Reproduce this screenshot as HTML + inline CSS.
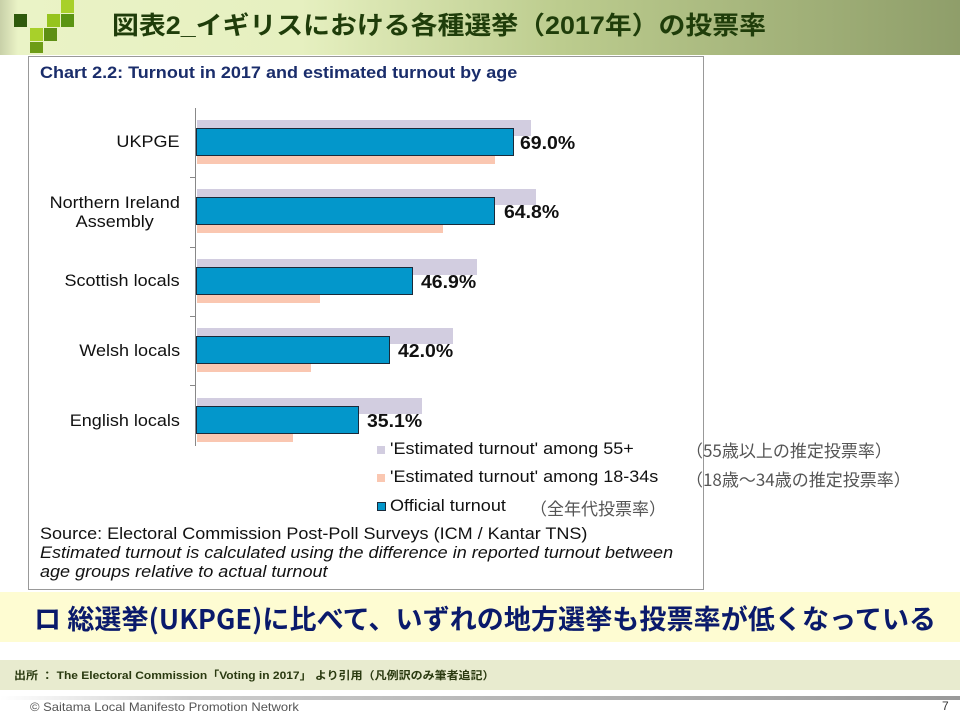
<!DOCTYPE html>
<html><head><meta charset="utf-8"><style>
*{margin:0;padding:0;box-sizing:border-box}
body{width:960px;height:720px;position:relative;background:#fff;overflow:hidden;font-family:"Liberation Sans","Noto Sans CJK JP",sans-serif}
.a{position:absolute}
.s{transform:scaleX(1.06);transform-origin:0 0;white-space:nowrap}
.sq{position:absolute;width:13px;height:13px}
.lbl{position:absolute;right:780px;font-size:17px;color:#111;text-align:center;line-height:19px;transform:scaleX(1.06);transform-origin:100% 0;white-space:nowrap}
.g{position:absolute;left:197px;height:16px;background:#d2cde0}
.b{position:absolute;left:196px;height:28px;background:#0397cb;border:1.5px solid #1a2a3a}
.p{position:absolute;left:197px;height:8px;background:#fac7b1}
.v{position:absolute;font-size:18px;font-weight:bold;color:#111;transform:scaleX(1.08);transform-origin:0 0}
.jp{font-family:"Noto Sans CJK JP",sans-serif;color:#555;font-size:17px;white-space:nowrap}
</style></head><body>
<div class="a" style="left:0;top:0;width:960px;height:55px;background:linear-gradient(90deg,#c8d0a8 0,#eaf3c6 18px,#e6f0c0 300px,#bccc8e 560px,#8f9e6a 960px)"></div>
<div class="sq" style="left:61px;top:0;background:#a8d02a"></div>
<div class="sq" style="left:14px;top:14px;background:#2f5a0c"></div>
<div class="sq" style="left:47px;top:14px;background:#96c41e"></div>
<div class="sq" style="left:61px;top:14px;background:#5a9412"></div>
<div class="sq" style="left:30px;top:28px;background:#a8d02a"></div>
<div class="sq" style="left:44px;top:28px;background:#5e8f14"></div>
<div class="sq" style="left:30px;top:42px;background:#6d9c16;height:11px"></div>
<div class="a" style="left:112px;top:6px;font-size:25px;font-weight:bold;color:#1f3d0a;white-space:nowrap;transform:scaleX(1.075);transform-origin:0 0">図表2_イギリスにおける各種選挙（2017年）の投票率</div>

<div class="a" style="left:28px;top:56px;width:676px;height:534px;border:1.5px solid #999;background:#fff"></div>
<div class="a s" style="left:40px;top:63px;font-size:17px;font-weight:bold;color:#1a2d6b">Chart 2.2: Turnout in 2017 and estimated turnout by age</div>

<div class="a" style="left:195px;top:108px;width:1px;height:338px;background:#888"></div>
<div class="a" style="left:190px;top:177px;width:6px;height:1px;background:#888"></div>
<div class="a" style="left:190px;top:247px;width:6px;height:1px;background:#888"></div>
<div class="a" style="left:190px;top:316px;width:6px;height:1px;background:#888"></div>
<div class="a" style="left:190px;top:385px;width:6px;height:1px;background:#888"></div>

<div class="lbl" style="top:132px">UKPGE</div>
<div class="lbl" style="top:193px">Northern Ireland<br>Assembly</div>
<div class="lbl" style="top:271px">Scottish locals</div>
<div class="lbl" style="top:341px">Welsh locals</div>
<div class="lbl" style="top:411px">English locals</div>

<div class="g" style="top:120px;width:334px"></div><div class="b" style="top:128px;width:318px"></div><div class="p" style="top:156px;width:298px"></div><div class="v" style="left:520px;top:133px">69.0%</div>
<div class="g" style="top:189px;width:339px"></div><div class="b" style="top:197px;width:299px"></div><div class="p" style="top:225px;width:246px"></div><div class="v" style="left:504px;top:202px">64.8%</div>
<div class="g" style="top:259px;width:280px"></div><div class="b" style="top:267px;width:217px"></div><div class="p" style="top:295px;width:123px"></div><div class="v" style="left:421px;top:272px">46.9%</div>
<div class="g" style="top:328px;width:256px"></div><div class="b" style="top:336px;width:194px"></div><div class="p" style="top:364px;width:114px"></div><div class="v" style="left:398px;top:341px">42.0%</div>
<div class="g" style="top:398px;width:225px"></div><div class="b" style="top:406px;width:163px"></div><div class="p" style="top:434px;width:96px"></div><div class="v" style="left:367px;top:411px">35.1%</div>

<div class="a" style="left:377px;top:446px;width:8px;height:8px;background:#d2cde0"></div>
<div class="a s" style="left:390px;top:439px;font-size:17px;color:#111">'Estimated turnout' among 55+</div>
<div class="a jp" style="left:686px;top:437px">（55歳以上の推定投票率）</div>
<div class="a" style="left:377px;top:474px;width:8px;height:8px;background:#fac7b1"></div>
<div class="a s" style="left:390px;top:467px;font-size:17px;color:#111">'Estimated turnout' among 18-34s</div>
<div class="a jp" style="left:686px;top:466px">（18歳～34歳の推定投票率）</div>
<div class="a" style="left:377px;top:502px;width:9px;height:9px;background:#0397cb;border:1px solid #1a2a3a"></div>
<div class="a s" style="left:390px;top:496px;font-size:17px;color:#111">Official turnout</div>
<div class="a jp" style="left:530px;top:495px">（全年代投票率）</div>

<div class="a s" style="left:40px;top:524px;font-size:17px;color:#111">Source: Electoral Commission Post-Poll Surveys (ICM / Kantar TNS)</div>
<div class="a s" style="left:40px;top:543px;font-size:17px;color:#111;font-style:italic;line-height:19px">Estimated turnout is calculated using the difference in reported turnout between<br>age groups relative to actual turnout</div>

<div class="a" style="left:0;top:592px;width:960px;height:50px;background:#fefcd2"></div>
<div class="a" style="left:34px;top:601px;font-size:27px;font-weight:bold;color:#0a1a6b;font-family:'Noto Sans CJK JP',sans-serif;letter-spacing:0.1px;line-height:34px;white-space:nowrap">ロ 総選挙(UKPGE)に比べて、いずれの地方選挙も投票率が低くなっている</div>
<div class="a" style="left:0;top:660px;width:960px;height:30px;background:#e8ebcf"></div>
<div class="a" style="left:14px;top:667px;font-size:11px;font-weight:bold;color:#2a3a10;white-space:nowrap;transform:scaleX(1.09);transform-origin:0 0">出所 ： The Electoral Commission「Voting in 2017」 より引用（凡例訳のみ筆者追記）</div>
<div class="a" style="left:0;top:696px;width:960px;height:4px;background:linear-gradient(90deg,#fff,#ccc 20%,#999)"></div>
<div class="a" style="left:30px;top:700px;font-size:12px;color:#555;white-space:nowrap;transform:scaleX(1.08);transform-origin:0 0">© Saitama Local Manifesto Promotion Network</div>
<div class="a" style="left:942px;top:699px;font-size:12px;color:#333">7</div>
</body></html>
